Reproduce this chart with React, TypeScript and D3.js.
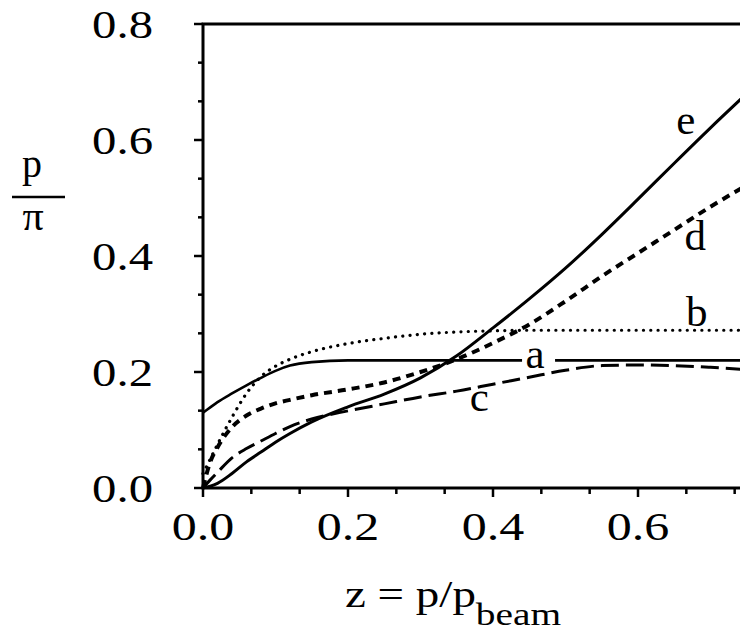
import React from "react";
import * as d3 from "d3";

// shared abscissa z = p/p_beam
const zGrid = [0, 0.01, 0.02, 0.04, 0.06, 0.08, 0.1, 0.12, 0.15, 0.2, 0.25, 0.3, 0.35, 0.4, 0.45, 0.5, 0.55, 0.6, 0.65, 0.7, 0.75];

const seriesA = [0.13, 0.139, 0.148, 0.163, 0.177, 0.19, 0.202, 0.211, 0.217, 0.22, 0.22, 0.22, 0.22, 0.22, 0.22, 0.22, 0.22, 0.22, 0.22, 0.22, 0.22];
const seriesB = [0.025, 0.05, 0.075, 0.122, 0.163, 0.192, 0.21, 0.222, 0.235, 0.249, 0.258, 0.265, 0.269, 0.271, 0.272, 0.272, 0.272, 0.272, 0.272, 0.272, 0.272];
const seriesC = [0, 0.014, 0.027, 0.052, 0.068, 0.081, 0.094, 0.106, 0.119, 0.133, 0.145, 0.157, 0.167, 0.179, 0.191, 0.203, 0.211, 0.212, 0.211, 0.208, 0.204];
const seriesD = [0, 0.045, 0.07, 0.105, 0.125, 0.137, 0.146, 0.152, 0.16, 0.17, 0.182, 0.2, 0.222, 0.25, 0.282, 0.322, 0.365, 0.405, 0.445, 0.485, 0.522];
const seriesE = [0, 0.003, 0.008, 0.025, 0.045, 0.062, 0.079, 0.094, 0.114, 0.14, 0.162, 0.19, 0.228, 0.276, 0.326, 0.379, 0.437, 0.498, 0.56, 0.621, 0.68];

const xTickLabels = [0, 0.2, 0.4, 0.6];
const yTickLabels = [0, 0.2, 0.4, 0.6, 0.8];

// curve labels: [name, z, value at label baseline]
const curveLabels: [string, number, number][] = [
  ["e", 0.666, 0.61],
  ["d", 0.679, 0.41],
  ["b", 0.681, 0.28],
  ["a", 0.458, 0.207],
  ["c", 0.381, 0.133],
];

const W = 740;
const H = 634;

export default function App() {
  const x = d3.scaleLinear().domain([0, 0.8]).range([203, 783]);
  const y = d3.scaleLinear().domain([0, 0.8]).range([488, 24]);

  const line = (vals: number[]) =>
    d3
      .line<number>()
      .x((_, i) => x(zGrid[i]))
      .y((v) => y(v))
      .curve(d3.curveMonotoneX)(vals) as string;

  const minorStep = 0.2 / 3;
  const xMinor = d3.range(0, 12).map((i) => i * minorStep);
  const yMinor = d3.range(0, 13).map((i) => i * minorStep);
  const isMajor = (v: number) => Math.abs(v / 0.2 - Math.round(v / 0.2)) < 1e-6;

  const serif = "'Liberation Serif', 'DejaVu Serif', serif";
  const sx = 1.25;

  const labelA = curveLabels.find((l) => l[0] === "a")!;

  return (
    <svg width={W} height={H} style={{ display: "block", position: "absolute", left: 0, top: 0, background: "#fff" }}>
      <rect x={0} y={0} width={W} height={H} fill="#fff" />
      {/* frame */}
      <rect
        x={x(0)}
        y={y(0.8)}
        width={x(0.8) - x(0)}
        height={y(0) - y(0.8)}
        fill="none"
        stroke="#000"
        strokeWidth={3}
      />
      {/* x ticks */}
      {xMinor.map((t, i) => (
        <line
          key={"xt" + i}
          x1={x(t)}
          x2={x(t)}
          y1={y(0)}
          y2={y(0) + (isMajor(t) ? 9 : 6)}
          stroke="#000"
          strokeWidth={2.5}
        />
      ))}
      {/* y ticks */}
      {yMinor.map((t, i) => (
        <line
          key={"yt" + i}
          x1={x(0)}
          x2={x(0) - (isMajor(t) ? 9 : 5)}
          y1={y(t)}
          y2={y(t)}
          stroke="#000"
          strokeWidth={2.5}
        />
      ))}
      {/* x tick labels */}
      {xTickLabels.map((t) => (
        <text
          key={"xl" + t}
          transform={`translate(${x(t)},${540}) scale(${sx},1)`}
          textAnchor="middle"
          fontFamily={serif}
          fontSize={40}
          fill="#000"
        >
          {t.toFixed(1)}
        </text>
      ))}
      {/* y tick labels */}
      {yTickLabels.map((t) => (
        <text
          key={"yl" + t}
          transform={`translate(${153},${y(t) + 14}) scale(${sx},1)`}
          textAnchor="end"
          fontFamily={serif}
          fontSize={39}
          fill="#000"
        >
          {t.toFixed(1)}
        </text>
      ))}
      {/* x axis title */}
      <text
        transform={`translate(${345},${607}) scale(1.27,1)`}
        textAnchor="start"
        fontFamily={serif}
        fontSize={37}
        fill="#000"
      >
        z = p/p
        <tspan fontSize={31} dy={18}>
          beam
        </tspan>
      </text>
      {/* y axis title */}
      <text x={32} y={177} textAnchor="middle" fontFamily={serif} fontSize={40} fill="#000">
        p
      </text>
      <line x1={12} x2={65} y1={197} y2={197} stroke="#000" strokeWidth={2.5} />
      <text x={33} y={230} textAnchor="middle" fontFamily={serif} fontSize={42} fill="#000">
        π
      </text>

      {/* curves */}
      <path d={line(seriesA)} fill="none" stroke="#000" strokeWidth={2.6} />
      <rect x={x(labelA[1]) - 13} y={y(0.22) - 6} width={33} height={12} fill="#fff" />
      <path
        d={line(seriesB)}
        fill="none"
        stroke="#000"
        strokeWidth={3.2}
        strokeDasharray="0.1 7.2"
        strokeLinecap="round"
      />
      <path d={line(seriesC)} fill="none" stroke="#000" strokeWidth={3} strokeDasharray="18 7" />
      <path d={line(seriesD)} fill="none" stroke="#000" strokeWidth={4} strokeDasharray="8 6" />
      <path d={line(seriesE)} fill="none" stroke="#000" strokeWidth={3} />

      {/* curve labels */}
      {curveLabels.map(([name, zz, vv]) => (
        <text
          key={"cl" + name}
          x={x(zz)}
          y={y(vv)}
          textAnchor="middle"
          fontFamily={serif}
          fontSize={43}
          fill="#000"
        >
          {name}
        </text>
      ))}
    </svg>
  );
}
